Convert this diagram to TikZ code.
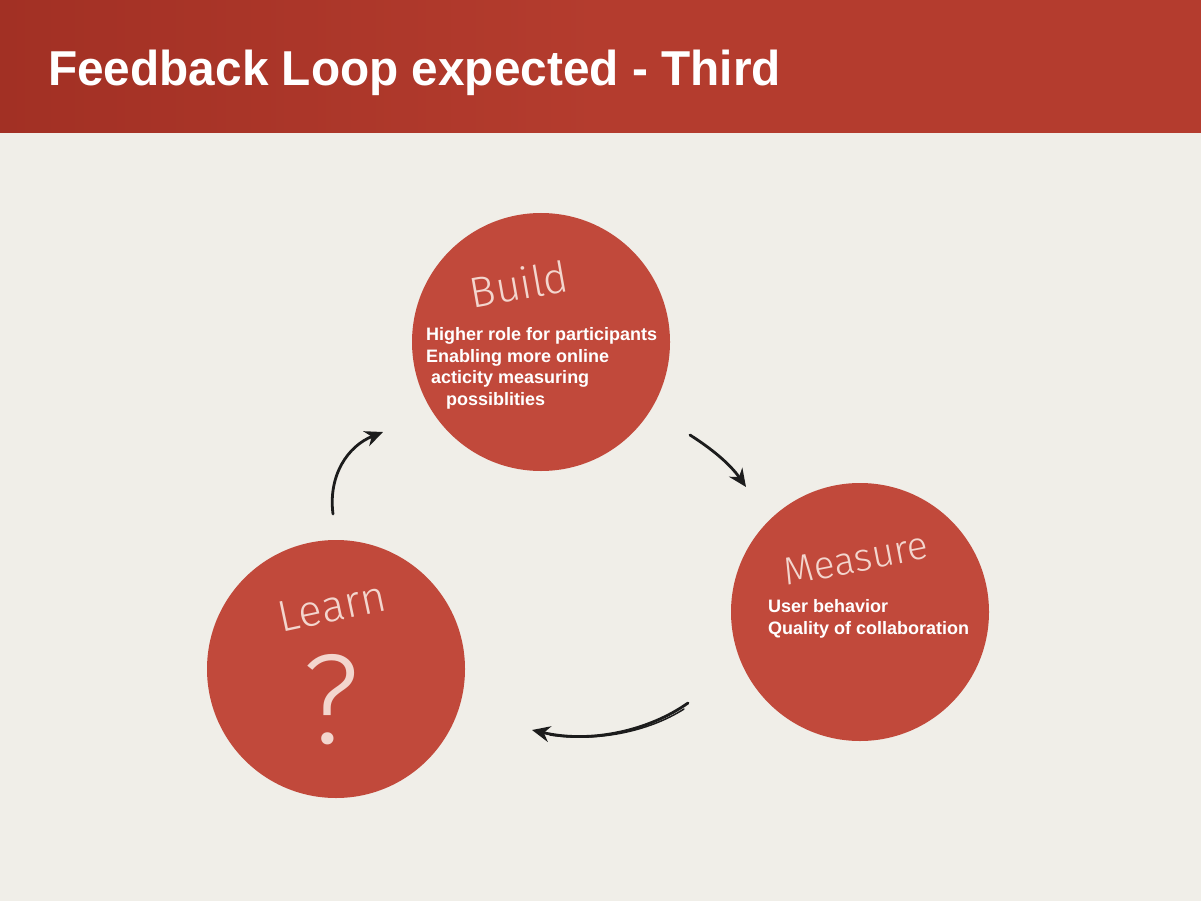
\documentclass[tikz,border=0pt]{standalone}
\usepackage{fontspec}
\setmainfont{Liberation Sans}
\newfontfamily\chalkfont{Fira Sans Light}
\usetikzlibrary{arrows.meta}

\definecolor{band}{RGB}{180,60,46}
\definecolor{bandedge}{RGB}{162,48,36}
\definecolor{paper}{RGB}{240,238,232}
\definecolor{disc}{RGB}{193,73,59}
\definecolor{chalk}{RGB}{243,214,206}
\definecolor{ink}{RGB}{28,28,28}

\begin{document}
\begin{tikzpicture}[x=1pt,y=-1pt,
  stage/.style={circle,fill=disc,minimum size=258pt,inner sep=0pt},
  chalkword/.style={text=chalk,inner sep=0pt,anchor=center},
  body/.style={text=white,font=\bfseries\fontsize{18}{21.7}\selectfont,anchor=base west,inner sep=0pt},
  sketch/.style={draw=ink,line width=2.8pt,line cap=round,-{Stealth[length=18pt,width=16pt]}}]

% paper and header band
\useasboundingbox (0,0) rectangle (1201,901);
\fill[paper] (0,0) rectangle (1201,901);
\shade[left color=bandedge,right color=band,middle color=band] (0,0) rectangle (1201,133);

\node[anchor=base west,inner sep=0pt,text=white,
      font=\bfseries\fontsize{49}{49}\selectfont,xscale=0.975] (title) at (48,86)
  {Feedback Loop expected - Third};

% the three stages
\node[stage] (build) at (541,342) {};
\node[stage] (measure) at (860,612) {};
\node[stage] (learn) at (336,669) {};

% chalk headings
\node[chalkword,font=\chalkfont\fontsize{43}{43}\selectfont,rotate=10] (buildword) at (519,284) {Build};
\node[chalkword,font=\chalkfont\fontsize{39}{39}\selectfont,rotate=11] (measureword) at (856,559) {Measure};
\node[chalkword,font=\chalkfont\fontsize{44}{44}\selectfont,rotate=12] (learnword) at (332,607) {Learn};
\node[chalkword,font=\chalkfont\fontsize{128}{128}\selectfont] (question) at (331,700) {?};

% stage details
\node[body] (b1) at (426,340.5) {Higher role for participants};
\node[body] (b2) at (426,362.2) {Enabling more online};
\node[body] (b3) at (431,383.9) {acticity measuring};
\node[body] (b4) at (446,405.6) {possiblities};

\node[body] (m1) at (768,612.5) {User behavior};
\node[body] (m2) at (768,634) {Quality of collaboration};

% sketched arrows between the stages
\coordinate (a1s) at (333,514);
\coordinate (a1e) at (383,432);
\coordinate (a2s) at (690,435);
\coordinate (a2e) at (746,487);
\coordinate (a3s) at (688,703);
\coordinate (a3e) at (532,730);

\draw[sketch] (a1s) .. controls (328,475) and (348,446) .. (a1e);
\draw[sketch] (a2s) .. controls (712,449) and (730,464) .. (a2e);
\draw[sketch] (a3s) .. controls (650,730) and (592,744) .. (a3e);
\draw[draw=ink,line width=1.5pt,line cap=round] (684,709) .. controls (648,732) and (596,742) .. (550,735);
\end{tikzpicture}
\end{document}
